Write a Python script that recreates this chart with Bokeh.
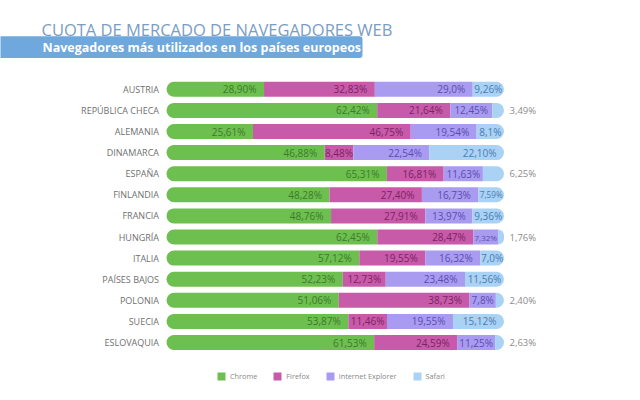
from bokeh.plotting import figure
from bokeh.models import ColumnDataSource, Range1d, Label, Legend, LegendItem
from bokeh.embed import file_html
from bokeh.resources import INLINE
from bokeh.core.properties import value

# ---------------- data ----------------
countries = ["AUSTRIA", "REPÚBLICA CHECA", "ALEMANIA", "DINAMARCA", "ESPAÑA",
             "FINLANDIA", "FRANCIA", "HUNGRÍA", "ITALIA", "PAÍSES BAJOS",
             "POLONIA", "SUECIA", "ESLOVAQUIA"]
chrome = ["28,90", "62,42", "25,61", "46,88", "65,31", "48,28", "48,76",
          "62,45", "57,12", "52,23", "51,06", "53,87", "61,53"]
firefox = ["32,83", "21,64", "46,75", "8,48", "16,81", "27,40", "27,91",
           "28,47", "19,55", "12,73", "38,73", "11,46", "24,59"]
ie = ["29,0", "12,45", "19,54", "22,54", "11,63", "16,73", "13,97",
      "7,32", "16,32", "23,48", "7,8", "19,55", "11,25"]
safari = ["9,26", "3,49", "8,1", "22,10", "6,25", "7,59", "9,36",
          "1,76", "7,0", "11,56", "2,40", "15,12", "2,63"]
series_names = ["Chrome", "Firefox", "Internet Explorer", "Safari"]
title_text = "CUOTA DE MERCADO DE NAVEGADORES WEB"
subtitle_text = "Navegadores más utilizados en los países europeos"

# ---------------- style / layout ----------------
FONT = "Open Sans"
W, H = 640, 400
PX0, PX_PER = 166.0, 3.375        # pixel of 0 %, pixels per 1 %
ROW0, ROW_STEP = 88.8, 21.1       # pixel of first row centre, row step
BAR_H = 15.0
PAD = 7.5
fills = ["#6dbf4f", "#c85aaa", "#a99bf0", "#a9d2f5"]
text_cols = ["#3d7a2c", "#7a2462", "#5b4cb0", "#4a7cb3"]
radii = [(8, 0, 0, 8), 0, 0, (0, 8, 8, 0)]
n = len(countries)


def dx(px):
    return (px - PX0) / PX_PER


def dy(py):
    return (n - 1) - (py - ROW0) / ROW_STEP


def num(s):
    return float(s.replace(",", "."))


def est_w(s, fs):
    w = 0.0
    for ch in s:
        w += {",": 0.25, "%": 0.84}.get(ch, 0.572)
    return w * fs


p = figure(width=W, height=H, output_backend="svg", toolbar_location=None,
           x_range=Range1d(dx(0), dx(W)), y_range=Range1d(dy(H), dy(0)),
           x_axis_location=None, y_axis_location=None, min_border=0)
p.grid.visible = False
p.outline_line_color = None
p.background_fill_color = "white"
p.border_fill_color = "white"

# banner + titles
p.add_layout(Label(x=dx(41), y=dy(28.8), text=title_text, text_font=FONT,
                   text_font_size="16.5px", text_color="#7a9dc4",
                   text_baseline="middle"))
p.quad(left=[dx(-10)], right=[dx(362)], top=[dy(35.7)], bottom=[dy(57.5)],
       fill_color="#6ea8dc", line_color=None, border_radius=(0, 3, 3, 0))
p.add_layout(Label(x=dx(42), y=dy(47), text=subtitle_text, text_font=FONT,
                   text_font_size="12.5px", text_font_style="bold",
                   text_color="white", text_baseline="middle"))

ys = [n - 1 - i for i in range(n)]
series = [chrome, firefox, ie, safari]
left = [0.0] * n
in_x, in_y, in_t, in_c, in_fs = [], [], [], [], []
out_x, out_y, out_t = [], [], []
for k, ser in enumerate(series):
    vals = [num(v) for v in ser]
    right = [l + v for l, v in zip(left, vals)]
    src = ColumnDataSource(dict(y=ys, left=left, right=right))
    p.hbar(y="y", left="left", right="right", height=BAR_H / ROW_STEP,
           source=src, fill_color=fills[k], line_color=None,
           border_radius=radii[k])
    for i in range(n):
        lab = ser[i] + "%"
        if k == 3 and vals[i] < 7:
            out_x.append(right[i]); out_y.append(ys[i]); out_t.append(lab)
            continue
        seg_w = vals[i] * PX_PER
        fs = 10.0
        w = est_w(lab, fs)
        if w > seg_w:
            fs = round(fs * seg_w / (w + 3), 1)
            w = est_w(lab, fs)
        if w + 2 * PAD <= seg_w:
            xr = right[i] - PAD / PX_PER
        else:
            xr = (left[i] + right[i]) / 2 + w / 2 / PX_PER
        in_x.append(xr); in_y.append(ys[i]); in_t.append(lab)
        in_c.append(text_cols[k]); in_fs.append(f"{fs}px")
    left = right

p.text(x="x", y="y", text="t", text_color="c", text_font_size="fs",
       source=ColumnDataSource(dict(x=in_x, y=in_y, t=in_t, c=in_c, fs=in_fs)),
       text_align="right", text_baseline="middle", text_font=value(FONT))
p.text(x="x", y="y", text="t",
       source=ColumnDataSource(dict(x=out_x, y=out_y, t=out_t)),
       text_align="left", text_baseline="middle", x_offset=5.5,
       text_font=value(FONT), text_font_size="9.5px", text_color="#8c8c8c")

# country labels
p.text(x=[dx(158.5)] * n, y=ys, text=countries, text_align="right",
       text_baseline="middle", text_font=value(FONT), text_font_size="9px",
       text_color="#707070")

# legend (swatch renderers sit outside the visible range)
items = []
for k, name in enumerate(series_names):
    r = p.quad(left=[-900], right=[-899], top=[0], bottom=[-1],
               fill_color=fills[k], line_color=None)
    items.append(LegendItem(label=name, renderers=[r]))
legend = Legend(items=items, orientation="horizontal", location=(216, 19),
                glyph_width=10, glyph_height=10, label_height=10,
                label_standoff=4, spacing=15, padding=0, margin=0,
                label_text_font=FONT, label_text_font_size="7.3px",
                label_text_color="#888888", background_fill_alpha=0,
                border_line_color=None)
p.add_layout(legend)

open("out.html", "w").write(file_html(p, INLINE))
